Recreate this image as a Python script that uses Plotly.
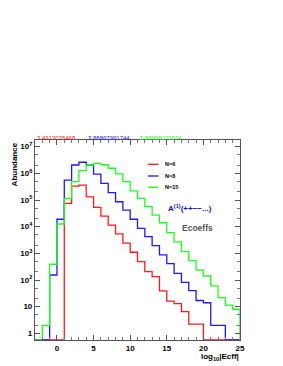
import plotly.graph_objects as go

# ---- data ----
bin_edges = list(range(-3, 26))  # 28 bins of width 1 from -3 to 25
red_n6 = [0, 0, 0, 0, 7.5e4, 3.3e5, 3.6e5, 1.3e5, 5.3e4, 2.5e4, 1.15e4, 5.4e3, 2.4e3,
          1.1e3, 490, 205, 133, 39, 16, 13, 6.5, 2.2, 2.2, 0, 0, 0, 0, 0]
blue_n8 = [0, 0, 154, 1.9e4, 5.6e5, 2.05e6, 2.6e6, 2.05e6, 9.4e5, 4.2e5, 1.9e5, 8.6e4,
           4.2e4, 1.9e4, 8.7e3, 4.2e3, 1.95e3, 870, 410, 178, 82, 40, 17, 14, 2, 2, 0, 0]
green_n15 = [0, 2, 390, 1.26e4, 1.15e5, 4.9e5, 1.26e6, 2.05e6, 2.35e6, 2.1e6, 1.55e6,
             9.5e5, 4.9e5, 2.2e5, 1.15e5, 5.6e4, 2.7e4, 1.4e4, 6e3, 2.7e3, 1150, 530,
             235, 141, 60, 22, 11.5, 8]
series_names = ["N=6", "N=8", "N=15"]
series_colors = ["#ff1a1a", "#1a1aff", "#1aff1a"]
top_values = ["3.4313075468", "3.88867991744", "5.98868173974"]
ytick_vals = [1, 10, 100, 1e3, 1e4, 1e5, 1e6, 1e7]
ytick_text = ["1", "10", "10<sup>2</sup>", "10<sup>3</sup>", "10<sup>4</sup>",
              "10<sup>5</sup>", "10<sup>6</sup>", "10<sup>7</sup>"]
xtick_vals = [0, 5, 10, 15, 20, 25]

YLOG_MIN, YLOG_MAX = -0.25, 7.25
YFLOOR = 10 ** YLOG_MIN

def step_xy(edges, vals):
    v = [val if val > 0 else YFLOOR for val in vals]
    xs = [edges[0]] + edges[:-1] + [edges[-1], edges[-1]]
    ys = [YFLOOR] + v + [v[-1], YFLOOR]
    return xs, ys

fig = go.Figure()
for name, vals, col in zip(series_names, [red_n6, blue_n8, green_n15], series_colors):
    xs, ys = step_xy(bin_edges, vals)
    fig.add_trace(go.Scatter(x=xs, y=ys, mode="lines", line_shape="hv",
                             line=dict(color=col, width=1.3), name=name,
                             showlegend=False, cliponaxis=True))

# page body has an 8px margin: figure is placed at (8, 8) in the window
OFF = 8
W, H = 283 - OFF, 366 - OFF
L, R, T, B = 31 - OFF, 43, 140 - OFF, 26
pw, ph = W - L - R, H - T - B
# helpers converting absolute window pixels to paper coordinates
def px(x): return (x - 31) / pw
def py(y): return (340 - y) / ph

axis_common = dict(showline=True, linecolor="#555", linewidth=1.2, mirror="allticks",
                   ticks="inside", ticklen=5, tickcolor="#555", showgrid=False, zeroline=False,
                   tickfont=dict(family="Liberation Sans", size=8, color="black", weight="bold"))
fig.update_layout(
    width=W, height=H, margin=dict(l=L, r=R, t=T, b=B),
    paper_bgcolor="white", plot_bgcolor="white",
    showlegend=False,
    xaxis=dict(range=[-3, 25], tickvals=xtick_vals,
               minor=dict(dtick=1, ticks="inside", ticklen=3, tickcolor="#777"),
               **axis_common),
    yaxis=dict(type="log", range=[YLOG_MIN, YLOG_MAX], tickvals=ytick_vals, ticktext=ytick_text,
               minor=dict(ticks="inside", ticklen=3, tickcolor="#777"),
               **axis_common),
)

ann = []
shapes = []
for i, (txt, col, xl) in enumerate(zip(top_values, series_colors, [31, 83, 135.7])):
    ann.append(dict(text=txt, x=px(xl), y=py(137.7), xref="paper", yref="paper",
                    xanchor="left", yanchor="middle", showarrow=False,
                    font=dict(family="Liberation Sans", size=6, color=col)))
# legend (key lines + labels)
for name, col, yy in zip(series_names, series_colors, [164.3, 176, 187.3]):
    shapes.append(dict(type="line", xref="paper", yref="paper", x0=px(146), x1=px(157),
                       y0=py(yy), y1=py(yy), line=dict(color=col, width=1.3)))
    ann.append(dict(text=name, x=px(161.5), y=py(yy), xref="paper", yref="paper",
                    xanchor="left", yanchor="middle", showarrow=False,
                    font=dict(family="Liberation Sans", size=5.5, color="black", weight="bold")))
ann.append(dict(text="Abundance", x=px(10), y=py(140), xref="paper", yref="paper",
                xanchor="center", yanchor="top", textangle=-90, showarrow=False,
                font=dict(family="Liberation Sans", size=8, color="black", weight="bold")))
ann.append(dict(text="log<sub>10</sub>|Ecff|", x=px(241), y=py(350), xref="paper", yref="paper",
                xanchor="right", yanchor="top", showarrow=False,
                font=dict(family="Liberation Sans", size=8, color="black", weight="bold")))
ann.append(dict(text="A<sup>(1)</sup>(++−−...)", x=px(165), y=py(208.3), xref="paper", yref="paper",
                xanchor="left", yanchor="middle", showarrow=False,
                font=dict(family="Liberation Sans", size=8, color="#1010dd", weight="bold")))
ann.append(dict(text="Ecoeffs", x=px(179), y=py(228.3), xref="paper", yref="paper",
                xanchor="left", yanchor="middle", showarrow=False,
                font=dict(family="Liberation Sans", size=8.5, color="#555555", weight="bold")))
fig.update_layout(annotations=ann, shapes=shapes)

fig.write_html("out.html")
